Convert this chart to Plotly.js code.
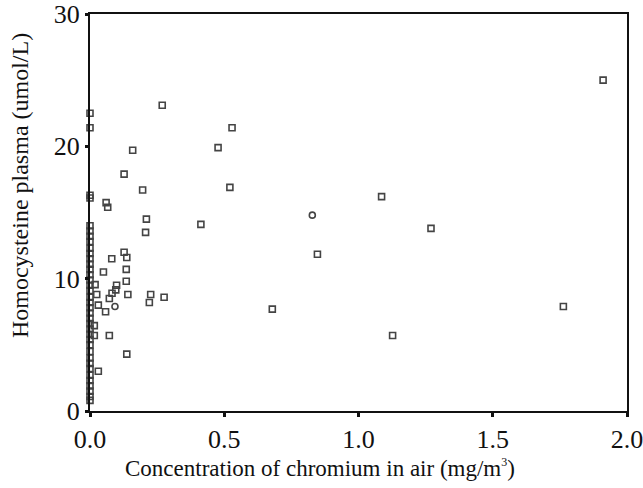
<!DOCTYPE html>
<html>
<head>
<meta charset="utf-8">
<script src="https://cdn.plot.ly/plotly-3.0.1.min.js"></script>
<style>html,body{margin:0;padding:0;background:#fff;}#chart{width:643px;height:488px;}</style>
</head>
<body>
<div id="chart"></div>
<script>
// Points (x: chromium in air mg/m3, y: homocysteine umol/L)
const chromium = [
  0, 0, 0, 0, 0, 0, 0, 0, 0, 0, 0, 0, 0, 0, 0, 0, 0, 0, 0, 0,
  0, 0, 0, 0, 0, 0, 0, 0, 0, 0, 0, 0, 0, 0, 0, 0, 0,
  0.269, 0.159, 0.529, 0.477, 0.127, 0.196, 0.521,
  1.086, 1.270, 0.847, 0.679, 1.911, 1.763, 1.127, 0.413,
  0.060, 0.066, 0.210, 0.207, 0.127, 0.137, 0.081, 0.050, 0.135, 0.135,
  0.099, 0.019, 0.096, 0.082, 0.025, 0.141, 0.226, 0.276, 0.072, 0.221,
  0.031, 0.058, 0.016, 0.016, 0.072, 0.137, 0.031
];
const homocysteine = [
  22.5, 21.4, 16.3, 16.1, 14.0, 13.6, 13.2, 12.8, 12.3, 11.9, 11.5, 11.1, 10.7, 10.3, 9.9, 9.5, 9.1, 8.6, 8.2, 7.8,
  7.4, 7.0, 6.6, 6.2, 5.8, 5.4, 5.0, 4.5, 4.0, 3.6, 3.2, 2.7, 2.3, 1.9, 1.5, 1.1, 0.8,
  23.1, 19.7, 21.4, 19.9, 17.9, 16.7, 16.9,
  16.2, 13.8, 11.85, 7.7, 25.0, 7.9, 5.7, 14.1,
  15.75, 15.4, 14.5, 13.5, 12.0, 11.6, 11.5, 10.5, 10.7, 9.8,
  9.5, 9.55, 9.15, 8.9, 8.8, 8.8, 8.8, 8.6, 8.5, 8.2,
  8.0, 7.5, 6.45, 5.7, 5.7, 4.3, 3.0
];
// a few markers in the reference look like circles
const circleX = [0.093, 0.828];
const circleY = [7.9, 14.8];
const xTickVals = [0, 0.5, 1, 1.5, 2];
const xTickText = ['0.0', '0.5', '1.0', '1.5', '2.0'];
const yTickVals = [0, 10, 20, 30];

const xTitle = 'Concentration of chromium in air (mg/m<sup><span style="font-size:12px">3</span></sup>)';
const yTitle = 'Homocysteine plasma (umol/L)';
const font = 'Liberation Serif';

const mk = (sym) => ({ symbol: sym, size: 6, color: '#444', line: { width: 1.6, color: '#444' } });
const traces = [
  { x: chromium, y: homocysteine, type: 'scatter', mode: 'markers', cliponaxis: false,
    marker: mk('square-open'), showlegend: false },
  { x: circleX, y: circleY, type: 'scatter', mode: 'markers', cliponaxis: false,
    marker: mk('circle-open'), showlegend: false }
];

const layout = {
  width: 643, height: 488,
  margin: { l: 90, r: 16, t: 14, b: 77 },
  paper_bgcolor: '#fff', plot_bgcolor: '#fff',
  font: { family: font, color: '#111' },
  xaxis: {
    range: [0, 2], tickvals: xTickVals, ticktext: xTickText, ticklabeloverflow: 'allow',
    showgrid: false, zeroline: false, showline: true, mirror: true, linecolor: '#111', linewidth: 2,
    ticks: 'outside', ticklen: 4, tickwidth: 3, tickcolor: '#111',
    tickfont: { family: font, size: 26, color: '#111' }
  },
  yaxis: {
    range: [0, 30], tickvals: yTickVals, ticklabeloverflow: 'allow',
    showgrid: false, zeroline: false, showline: true, mirror: true, linecolor: '#111', linewidth: 2,
    ticks: 'outside', ticklen: 3, tickwidth: 3, tickcolor: '#111',
    tickfont: { family: font, size: 26, color: '#111' }
  },
  annotations: [
    { text: xTitle, xref: 'paper', yref: 'paper', x: 0.428, y: -0.143,
      xanchor: 'center', yanchor: 'middle', showarrow: false,
      font: { family: font, size: 23, color: '#111' } },
    { text: yTitle, xref: 'paper', yref: 'paper', x: -0.1304, y: 0.569, textangle: -90,
      xanchor: 'center', yanchor: 'middle', showarrow: false,
      font: { family: font, size: 24, color: '#111' } }
  ]
};

Plotly.newPlot('chart', traces, layout, { displayModeBar: false, staticPlot: true });
</script>
</body>
</html>
